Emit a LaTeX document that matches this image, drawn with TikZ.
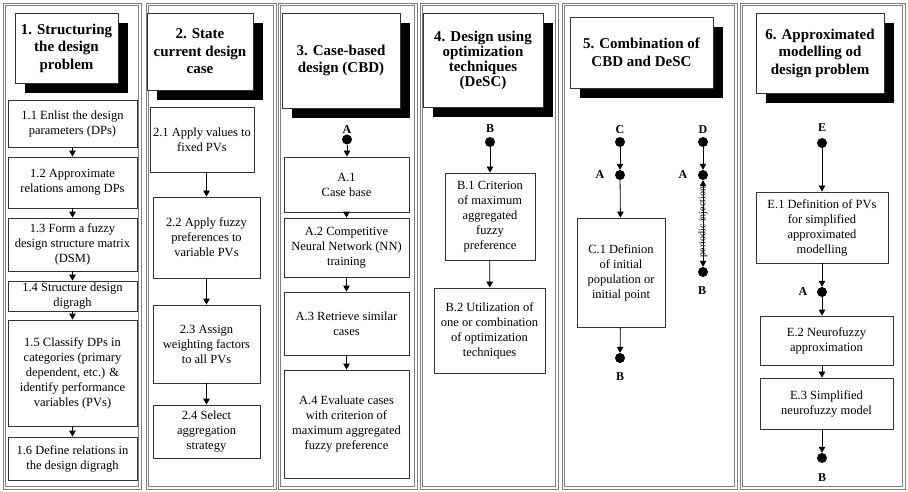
\documentclass[tikz,border=0pt]{standalone}
\usepackage{fontspec}
\setmainfont{Liberation Serif}
\usetikzlibrary{arrows.meta,calc,shadows}

% two thin grey outlines around each column
\newcommand{\colframe}[4]{%
  \draw[frameline] (#1,#2) rectangle (#3,#4);
  \draw[frameline] (#1+2.2,#2+2.2) rectangle (#3-2.2,#4-2.2);}

\begin{document}
\begin{tikzpicture}[x=1pt,y=-1pt,
  frameline/.style={draw=black!50, line width=0.75pt},
  stepbox/.style={draw=black!80, line width=0.8pt, fill=white, align=center,
    font=\fontsize{12.5}{15}\selectfont, inner sep=0pt},
  titlebox/.style={draw=black!80, line width=0.8pt, fill=white, align=center,
    font=\fontsize{15}{17.5}\selectfont\bfseries, inner sep=0pt,
    drop shadow={shadow xshift=10pt, shadow yshift=-10pt, opacity=1, fill=black}},
  dot/.style={circle, fill=black, minimum size=10pt, inner sep=0pt},
  lbl/.style={font=\fontsize{12}{13}\selectfont\bfseries, inner sep=0pt},
  arr/.style={-{Triangle[width=6.5pt,length=6pt]}, line width=0.8pt},
  dblarr/.style={{Triangle[width=6.5pt,length=6pt]}-{Triangle[width=6.5pt,length=6pt]}, line width=0.8pt}]

\useasboundingbox (0,0) rectangle (908,492);

% column frames
\colframe{3}{3}{141}{489}
\colframe{146}{3}{276}{489}
\colframe{278}{3}{417}{489}
\colframe{420}{3}{558}{489}
\colframe{562}{3}{737}{489}
\colframe{740}{3}{905}{489}

% ---------- 1. Structuring the design problem
\node[titlebox, minimum width=103pt, minimum height=70pt] (t1) at (66.5,48)
  {1. Structuring\\the design\\problem};
\node[stepbox, minimum width=129pt, minimum height=47pt] (b11) at (72.5,123.5)
  {1.1 Enlist the design\\parameters (DPs)};
\node[stepbox, minimum width=129pt, minimum height=51pt] (b12) at (72.5,182.5)
  {1.2 Approximate\\relations among DPs};
\node[stepbox, minimum width=129pt, minimum height=53pt] (b13) at (72.5,244.5)
  {1.3 Form a fuzzy\\design structure matrix\\(DSM)};
\node[stepbox, minimum width=129pt, minimum height=30pt] (b14) at (72.5,296)
  {1.4 Structure design\\digragh};
\node[stepbox, minimum width=129pt, minimum height=106pt] (b15) at (72.5,373)
  {1.5 Classify DPs in\\categories (primary\\dependent, etc.) \&\\identify performance\\variables (PVs)};
\node[stepbox, minimum width=129pt, minimum height=43pt] (b16) at (72.5,458.5)
  {1.6 Define relations in\\the design digragh};
\draw[arr] (b11) -- (b12);
\draw[arr] (b12) -- (b13);
\draw[arr] (b13) -- (b14);
\draw[arr] (b14) -- (b15);
\draw[arr] (b15) -- (b16);

% ---------- 2. State current design case
\node[titlebox, minimum width=106pt, minimum height=77pt] (t2) at (200,51.5)
  {2. State\\current design\\case};
\node[stepbox, minimum width=104pt, minimum height=65pt] (b21) at (202,139.5)
  {2.1 Apply values to\\fixed PVs};
\node[stepbox, minimum width=107pt, minimum height=81pt] (b22) at (206.5,237.5)
  {2.2 Apply fuzzy\\preferences to\\variable PVs};
\node[stepbox, minimum width=107pt, minimum height=78pt] (b23) at (206.5,344)
  {2.3 Assign\\weighting factors\\to all PVs};
\node[stepbox, minimum width=107pt, minimum height=53pt] (b24) at (206.5,431.5)
  {2.4 Select\\aggregation\\strategy};
\draw[arr] (b22.north |- b21.south) -- (b22.north);
\draw[arr] (b22) -- (b23);
\draw[arr] (b23) -- (b24);

% ---------- 3. Case-based design
\node[titlebox, minimum width=118pt, minimum height=95pt] (t3) at (341,60.5)
  {3. Case-based\\design (CBD)};
\node[lbl] (la3) at (347,130) {A};
\node[dot] (da3) at (347,139.5) {};
\node[stepbox, minimum width=125pt, minimum height=55pt] (a1) at (346.5,184.5)
  {A.1\\Case base};
\node[stepbox, minimum width=125pt, minimum height=59pt] (a2) at (346.5,247.5)
  {A.2 Competitive\\Neural Network (NN)\\training};
\node[stepbox, minimum width=125pt, minimum height=63pt] (a3) at (346.5,323.5)
  {A.3 Retrieve similar\\cases};
\node[stepbox, minimum width=125pt, minimum height=108pt] (a4) at (346.5,424)
  {A.4 Evaluate cases\\with criterion of\\maximum aggregated\\fuzzy preference};
\draw[arr] (da3) -- (da3 |- a1.north);
\draw[arr] (a1) -- (a2);
\draw[arr] (a2) -- (a3);
\draw[arr] (a3) -- (a4);

% ---------- 4. Design using optimization techniques
\node[titlebox, font=\fontsize{15}{15}\selectfont\bfseries,
  minimum width=120pt, minimum height=94pt] (t4) at (483,60)
  {4. Design using\\optimization\\techniques\\(DeSC)};
\node[lbl] (lb4) at (490,129) {B};
\node[dot] (db4) at (490,142) {};
\node[stepbox, minimum width=90pt, minimum height=87pt] (bb1) at (490,216.5)
  {B.1 Criterion\\of maximum\\aggregated\\fuzzy\\preference};
\node[stepbox, minimum width=111pt, minimum height=85pt] (bb2) at (489.5,330.5)
  {B.2 Utilization of\\one or combination\\of optimization\\techniques};
\draw[arr] (db4) -- (bb1);
\draw[arr] (bb1) -- (bb2);

% ---------- 5. Combination of CBD and DeSC
\node[titlebox, minimum width=143pt, minimum height=71pt] (t5) at (641.5,52.5)
  {5. Combination of\\CBD and DeSC};
\node[lbl] (lc5) at (620,130) {C};
\node[dot] (dc5) at (620,142) {};
\node[dot] (da5) at (620,175) {};
\node[lbl] (la5) at (600,175) {A};
\node[stepbox, minimum width=88pt, minimum height=109pt] (c1) at (621,272.5)
  {C.1 Definion\\of initial\\population or\\initial point};
\node[dot] (db5) at (620,358) {};
\node[lbl] (lb5) at (620,377) {B};
\draw[arr] (dc5) -- (da5);
\draw[arr] (da5) -- (c1);
\draw[arr] (c1) -- (db5);

\node[lbl] (ld5) at (703,130) {D};
\node[dot] (dd5) at (703,142) {};
\node[dot] (dax5) at (703,175) {};
\node[lbl] (lax5) at (683,175) {A};
\node[dot] (dbx5) at (703,272) {};
\node[lbl] (lbx5) at (702,291) {B};
\draw[arr] (dd5) -- (dax5);
\draw[dblarr] (dax5) -- (dbx5);
\node[rotate=90, font=\fontsize{10}{11}\selectfont, inner sep=0pt] (inj) at (703,222)
  {periodic injection};

% ---------- 6. Approximated modelling of design problem
\node[titlebox, minimum width=128pt, minimum height=80pt] (t6) at (820,53)
  {6. Approximated\\modelling od\\design problem};
\node[lbl] (le6) at (822,128) {E};
\node[dot] (de6) at (822,143) {};
\node[stepbox, minimum width=132pt, minimum height=71pt] (e1) at (822,227.5)
  {E.1 Definition of PVs\\for simplified\\approximated\\modelling};
\node[dot] (da6) at (822,292) {};
\node[lbl] (la6) at (803,292) {A};
\node[stepbox, minimum width=133pt, minimum height=49pt] (e2) at (826.5,340.5)
  {E.2 Neurofuzzy\\approximation};
\node[stepbox, minimum width=133pt, minimum height=51pt] (e3) at (826.5,403.5)
  {E.3 Simplified\\neurofuzzy model};
\node[dot] (db6) at (822,458) {};
\node[lbl] (lb6) at (822,478) {B};
\draw[arr] (de6) -- (e1);
\draw[arr] (e1) -- (da6);
\draw[arr] (da6) -- (da6 |- e2.north);
\draw[arr] (da6 |- e2.south) -- (da6 |- e3.north);
\draw[arr] (da6 |- e3.south) -- (db6);
\end{tikzpicture}
\end{document}
